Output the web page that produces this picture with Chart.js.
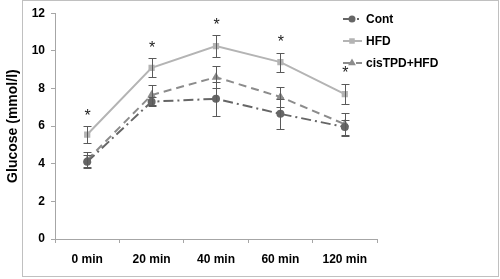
<!DOCTYPE html>
<html>
<head>
<meta charset="utf-8">
<script src="https://cdn.jsdelivr.net/npm/chart.js@4"></script>
<style>
  html, body { margin: 0; padding: 0; background: #fff; }
  #wrap { width: 500px; height: 279px; position: relative; }
</style>
</head>
<body>
<div id="wrap"><canvas id="myChart"></canvas></div>
<script>
// categories and values
const categories = ['0 min', '20 min', '40 min', '60 min', '120 min'];
const cont = [4.1, 7.3, 7.45, 6.65, 5.95];
const contErr = [0.35, 0.25, 0.9, 0.8, 0.4];
const hfd = [5.55, 9.1, 10.25, 9.4, 7.7];
const hfdErr = [0.45, 0.5, 0.57, 0.5, 0.55];
const cis = [4.2, 7.65, 8.6, 7.55, 6.1];
const cisErr = [0.4, 0.55, 0.6, 0.55, 0.6];
const starred = [true, true, true, true, true];
const yTicks = [0, 2, 4, 6, 8, 10, 12];

const FONT = '"Liberation Sans", Arial, sans-serif';

// error bars + significance stars
const errorBars = {
    id: 'errorBars',
    afterDatasetsDraw(chart) {
        const ctx = chart.ctx;
        const y = chart.scales.y;
        const x = chart.scales.x;
        ctx.save();
        chart.data.datasets.forEach((ds, i) => {
            ds.errors.forEach((e, j) => {
                const px = Math.round(x.getPixelForValue(j));
                const top = Math.round(y.getPixelForValue(ds.data[j] + e)) + 0.5;
                const bot = Math.round(y.getPixelForValue(ds.data[j] - e)) + 0.5;
                ctx.strokeStyle = '#5a5a5a';
                ctx.lineWidth = 1;
                ctx.setLineDash([]);
                ctx.beginPath();
                ctx.moveTo(px + 0.5, top); ctx.lineTo(px + 0.5, bot);
                ctx.moveTo(px - 3.5, top); ctx.lineTo(px + 4.5, top);
                ctx.moveTo(px - 3.5, bot); ctx.lineTo(px + 4.5, bot);
                ctx.stroke();
            });
        });
        // stars above HFD
        ctx.fillStyle = '#222';
        ctx.font = '16px ' + FONT;
        ctx.textAlign = 'center';
        ctx.textBaseline = 'middle';
        starred.forEach((s, j) => {
            if (!s) return;
            const px = x.getPixelForValue(j);
            const top = y.getPixelForValue(hfd[j] + hfdErr[j]);
            ctx.fillText('*', px + 0.5, top - 10);
        });
        ctx.restore();
    }
};

// outer frame and custom legend (line + marker)
const frameLegend = {
    id: 'frameLegend',
    beforeDraw(chart) {
        const ctx = chart.ctx;
        ctx.save();
        ctx.fillStyle = '#fff';
        ctx.fillRect(0, 0, chart.width, chart.height);
        ctx.strokeStyle = '#c0c0c0';
        ctx.lineWidth = 1;
        ctx.strokeRect(22.5, 0.5, 476, 276);
        ctx.restore();
    },
    afterDraw(chart) {
        const ctx = chart.ctx;
        ctx.save();
        chart.data.datasets.forEach((ds, i) => {
            const ly = 19 + i * 22;
            ctx.strokeStyle = ds.borderColor;
            ctx.lineWidth = 2;
            ctx.setLineDash(ds.borderDash || []);
            ctx.beginPath();
            ctx.moveTo(343, ly); ctx.lineTo(362, ly);
            ctx.stroke();
            ctx.setLineDash([]);
            ctx.fillStyle = ds.pointBackgroundColor;
            ctx.strokeStyle = ds.pointBackgroundColor;
            Chart.helpers.drawPoint(ctx, {
                pointStyle: ds.pointStyle, radius: 2.5, borderWidth: 1, rotation: 0
            }, 352, ly);
            ctx.fillStyle = '#000';
            ctx.font = 'bold 12px ' + FONT;
            ctx.textAlign = 'left';
            ctx.textBaseline = 'middle';
            ctx.fillText(ds.label, 366, ly + 1);
        });
        ctx.restore();
    }
};

const data = {
    labels: categories,
    datasets: [
        {
            label: 'Cont', data: cont, errors: contErr,
            borderColor: '#666666', pointBackgroundColor: '#666666', pointBorderColor: '#666666',
            borderDash: [10, 4, 2, 4], pointStyle: 'circle', pointRadius: 3, borderWidth: 2
        },
        {
            label: 'HFD', data: hfd, errors: hfdErr,
            borderColor: '#b4b4b4', pointBackgroundColor: '#b4b4b4', pointBorderColor: '#b4b4b4',
            pointStyle: 'rect', pointRadius: 3, borderWidth: 2
        },
        {
            label: 'cisTPD+HFD', data: cis, errors: cisErr,
            borderColor: '#8c8c8c', pointBackgroundColor: '#8c8c8c', pointBorderColor: '#8c8c8c',
            borderDash: [8, 5], pointStyle: 'triangle', pointRadius: 3, borderWidth: 2
        }
    ]
};

const config = {
    type: 'line',
    data,
    options: {
        responsive: true,
        maintainAspectRatio: false,
        animation: false,
        layout: { padding: { top: 3, right: 123, bottom: 0, left: 0 } },
        plugins: {
            legend: { display: false },
            tooltip: { enabled: false }
        },
        scales: {
            x: {
                offset: true,
                grid: { drawOnChartArea: false, tickLength: 4, color: '#a6a6a6', offset: true },
                border: { color: '#a6a6a6' },
                ticks: { color: '#000', font: { family: FONT, size: 12, weight: 'bold' }, padding: 9, maxRotation: 0 },
                afterFit(scale) { scale.height = 40; }
            },
            y: {
                min: 0, max: 12,
                afterBuildTicks(scale) { scale.ticks = yTicks.map(v => ({ value: v })); },
                grid: { drawOnChartArea: false, tickLength: 4, color: '#a6a6a6' },
                border: { color: '#a6a6a6' },
                ticks: { color: '#000', font: { family: FONT, size: 12, weight: 'bold' }, padding: 6 },
                title: {
                    display: true, text: 'Glucose (mmol/l)', color: '#000',
                    font: { family: FONT, size: 14, weight: 'bold' }, padding: { top: 5, bottom: 0 }
                },
                afterFit(scale) { scale.width = 55; }
            }
        }
    },
    plugins: [frameLegend, errorBars]
};

const myChart = new Chart(document.getElementById('myChart'), config);
</script>
</body>
</html>
